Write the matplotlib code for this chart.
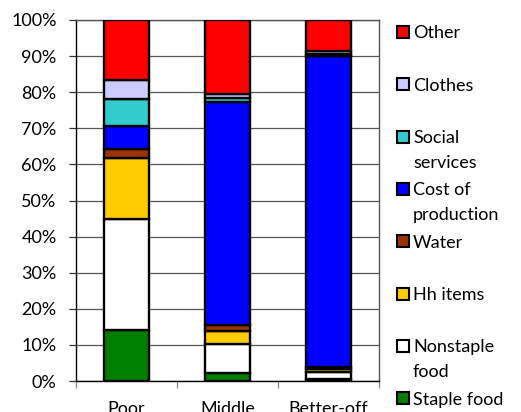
import matplotlib
matplotlib.use("Agg")
import matplotlib.pyplot as plt
from matplotlib.patches import Rectangle
import numpy as np

categories = ["Poor", "Middle", "Better-off"]
staple_food = [14.0, 2.3, 0.5]
nonstaple_food = [31.0, 8.0, 2.0]
hh_items = [16.7, 3.6, 0.8]
water = [2.6, 1.5, 0.7]
cost_of_production = [6.4, 62.0, 86.0]
social_services = [7.3, 1.0, 0.7]
clothes = [5.4, 1.0, 0.8]
other = [16.6, 20.6, 8.5]

series = [
    ("Staple food", staple_food, "#008000"),
    ("Nonstaple\nfood", nonstaple_food, "#FFFFFF"),
    ("Hh items", hh_items, "#FFCC00"),
    ("Water", water, "#993300"),
    ("Cost of\nproduction", cost_of_production, "#0000FF"),
    ("Social\nservices", social_services, "#33CCCC"),
    ("Clothes", clothes, "#CCCCFF"),
    ("Other", other, "#FF0000"),
]

FONT = "Lato"
W, H = 521, 412
fig = plt.figure(figsize=(W / 100, H / 100), dpi=100)
ax = fig.add_axes([76 / W, 1 - 381 / H, 303 / W, 361 / H])

x = np.arange(len(categories))
bottom = np.zeros(len(categories))
for label, vals, color in series:
    vals = np.array(vals)
    ax.bar(x, vals, bottom=bottom, width=0.455, color=color,
           edgecolor="black", linewidth=1.7, zorder=3)
    bottom += vals

ax.set_xlim(-0.5, 2.5)
ax.set_ylim(0, 100)
ax.set_yticks(np.arange(0, 101, 10))
ax.set_yticklabels([f"{v}%" for v in range(0, 101, 10)], fontfamily=FONT, fontsize=13)
ax.yaxis.grid(True, color="#555555", linewidth=0.9, zorder=0)
ax.set_axisbelow(True)
ax.tick_params(axis="y", length=5, width=0.9, pad=9, color="#333333")

ax.set_xticks([-0.5, 0.5, 1.5, 2.5])
ax.set_xticklabels([])
ax.set_xticks(x, minor=True)
ax.set_xticklabels(categories, minor=True, fontfamily=FONT, fontsize=13)
ax.tick_params(axis="x", which="major", length=5, width=0.9, color="#888888")
ax.tick_params(axis="x", which="minor", length=0, pad=14.5)

for s in ["left", "bottom"]:
    ax.spines[s].set_color("black")
    ax.spines[s].set_linewidth(1.0)
for s in ["top", "right"]:
    ax.spines[s].set_color("#555555")
    ax.spines[s].set_linewidth(1.0)

# legend drawn manually (top to bottom)
sq = 12
for i, (label, vals, color) in enumerate(reversed(series)):
    cy = 32 + 52.3 * i
    fig.patches.append(Rectangle((397 / W, 1 - (cy + sq / 2) / H), sq / W, sq / H,
                                 transform=fig.transFigure, facecolor=color,
                                 edgecolor="black", linewidth=1.5))
    for k, line in enumerate(label.split("\n")):
        fig.text(413 / W, 1 - (cy + 6.5 + 24.5 * k) / H, line, fontfamily=FONT,
                 fontsize=13, va="baseline", ha="left")

fig.savefig("out.png", dpi=100)
